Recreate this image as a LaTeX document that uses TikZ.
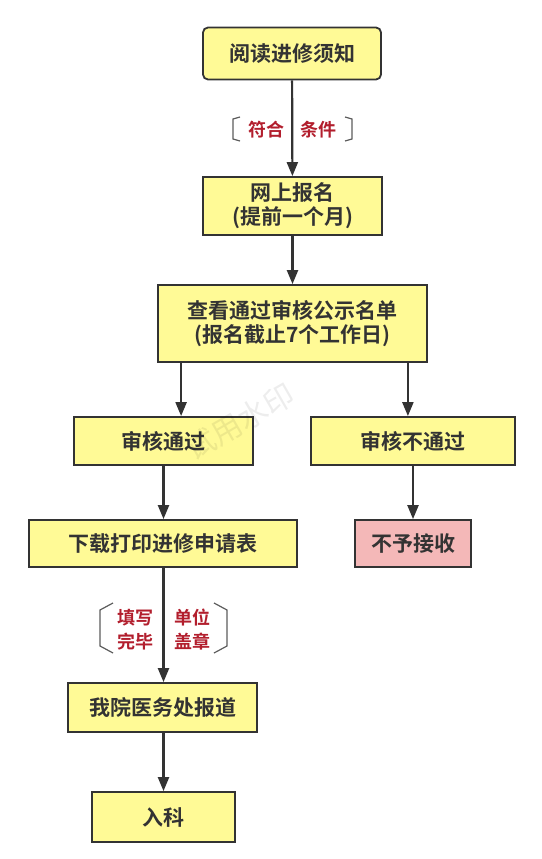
\documentclass[tikz,border=0pt]{standalone}
\usepackage{fontspec}
\setmainfont{Noto Sans CJK SC}[BoldFont={Noto Sans CJK SC Bold}]
\usetikzlibrary{arrows.meta}
\definecolor{boxyellow}{RGB}{255,250,150}
\definecolor{boxpink}{RGB}{244,184,184}
\definecolor{edge}{RGB}{51,51,51}
\definecolor{notered}{RGB}{178,30,45}
\tikzset{
  stepbox/.style={draw=edge, line width=1.8pt, fill=boxyellow, text=edge,
    font=\bfseries\fontsize{21}{24}\selectfont, align=center, inner sep=0pt},
  flow/.style={draw=edge, line width=2.2pt, -{Triangle[length=14pt,width=11pt]}},
  note/.style={text=notered, font=\bfseries\fontsize{18}{24}\selectfont,
    align=center, inner sep=0pt},
  bracket/.style={draw=edge!80, line width=1.2pt},
}
\begin{document}
\begin{tikzpicture}[x=1pt,y=-1pt]
                \useasboundingbox (0,0) rectangle (541,859);
                % boxes
                \node[stepbox, rounded corners=5pt, minimum width=178pt, minimum height=52pt] (read) at (292,53.5) {阅读进修须知};
                \node[stepbox, minimum width=179pt, minimum height=58pt] (apply) at (292.5,206) {网上报名\\(提前一个月)};
                \node[stepbox, minimum width=269pt, minimum height=77pt] (check) at (292.5,323.5) {查看通过审核公示名单\\(报名截止7个工作日)};
                \node[stepbox, minimum width=179pt, minimum height=48pt] (pass) at (163.5,441) {审核通过};
                \node[stepbox, minimum width=204pt, minimum height=48pt] (fail) at (413,441) {审核不通过};
                \node[stepbox, minimum width=268pt, minimum height=47pt] (form) at (163,543.5) {下载打印进修申请表};
                \node[stepbox, fill=boxpink, minimum width=116pt, minimum height=47pt] (reject) at (413,543.5) {不予接收};
                \node[stepbox, minimum width=189pt, minimum height=49pt] (report) at (162.5,707.5) {我院医务处报道};
                \node[stepbox, minimum width=143pt, minimum height=50pt] (enter) at (163.5,817) {入科};
                % arrows
                \draw[flow] (read) -- (apply);
                \draw[flow] (apply) -- (check);
                \draw[flow] ([xshift=24pt]check.south west) -- ([xshift=24pt]check.south west |- pass.north);
                \draw[flow] ([xshift=-20pt]check.south east) -- ([xshift=-20pt]check.south east |- fail.north);
                \draw[flow] (pass.south) -- (pass.south |- form.north);
                \draw[flow] (fail) -- (fail |- reject.north);
                \draw[flow] (pass.south |- form.south) -- (pass.south |- report.north);
                \draw[flow] (pass.south |- report.south) -- (pass.south |- enter.north);
                % labels on arrows
                \node[note] (fit1) at (266,130) {符合};
                \node[note] (fit2) at (318,130) {条件};
                \draw[bracket] (240,117) -- (233,119) -- (233,139) -- (240,141);
                \draw[bracket] (345,117) -- (352,119) -- (352,139) -- (345,141);
                \node[note] (fill1) at (135,630) {填写\\完毕};
                \node[note] (fill2) at (192,630) {单位\\盖章};
                \draw[bracket] (113,603) -- (100,610) -- (100,646) -- (113,653);
                \draw[bracket] (214,603) -- (227,610) -- (227,646) -- (214,653);
                % watermark
                \node[text=black, opacity=0.07, rotate=30, font=\fontsize{30}{30}\selectfont] (mark) at (240,422) {试用水印};
\end{tikzpicture}
\end{document}
